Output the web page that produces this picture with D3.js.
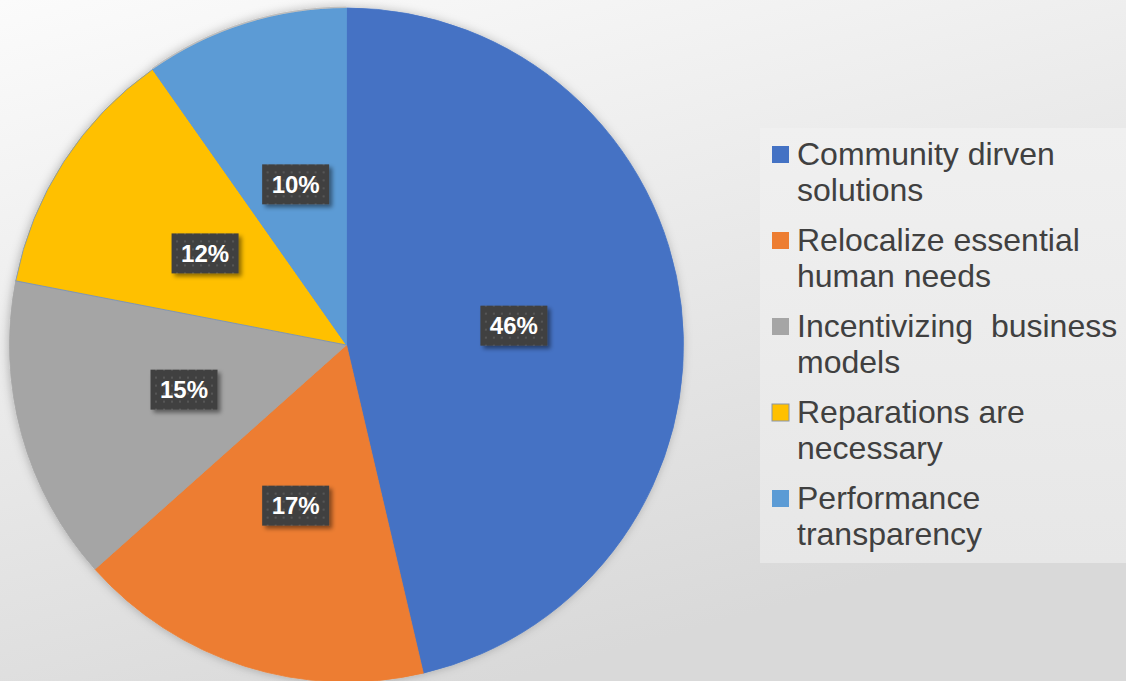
<!DOCTYPE html>
<html>
<head>
<meta charset="utf-8">
<script src="https://cdn.jsdelivr.net/npm/d3@7/dist/d3.min.js"></script>
<style>
  html, body { margin: 0; padding: 0; overflow: hidden; }
  svg { display: block; }
</style>
</head>
<body>
<svg id="chart"></svg>
<script>
// chart data (response counts, labels show share of total)
const categories = ["Community dirven solutions", "Relocalize essential human needs", "Incentivizing  business models", "Reparations are necessary", "Performance transparency"];
const legendLines = [["Community dirven", "solutions"], ["Relocalize essential", "human needs"], ["Incentivizing  business", "models"], ["Reparations are", "necessary"], ["Performance", "transparency"]];
const values = [19, 7, 6, 5, 4];
const colors = ["#4472C4", "#ED7D31", "#A5A5A5", "#FFC000", "#5B9BD5"];

const width = 1126, height = 681;
const cx = 346.5, cy = 345, radius = 337;
const total = d3.sum(values);

const svg = d3.select("svg#chart")
    .attr("width", width)
    .attr("height", height);

const defs = svg.append("defs");

// background gradient, light top-left to grey bottom-right
const bg = defs.append("linearGradient")
    .attr("id", "bg")
    .attr("x1", "0").attr("y1", "0")
    .attr("x2", "0.45").attr("y2", "1");
bg.append("stop").attr("offset", "0%").attr("stop-color", "#fbfbfb");
bg.append("stop").attr("offset", "100%").attr("stop-color", "#d9d9d9");

const lg = defs.append("linearGradient")
    .attr("id", "legbg")
    .attr("x1", "0").attr("y1", "0")
    .attr("x2", "0").attr("y2", "1");
lg.append("stop").attr("offset", "0%").attr("stop-color", "#f0f0f0");
lg.append("stop").attr("offset", "100%").attr("stop-color", "#e7e7e7");

// dotted dark fill for the data labels
const pat = defs.append("pattern")
    .attr("id", "dots")
    .attr("patternUnits", "userSpaceOnUse")
    .attr("width", 8).attr("height", 8);
pat.append("rect").attr("width", 8).attr("height", 8).attr("fill", "#404040");
pat.append("rect").attr("x", 3).attr("y", 3).attr("width", 2).attr("height", 2).attr("fill", "#575757");

const pieShadow = defs.append("filter")
    .attr("id", "pieShadow")
    .attr("x", "-10%").attr("y", "-10%").attr("width", "120%").attr("height", "120%");
pieShadow.append("feDropShadow")
    .attr("dx", -1).attr("dy", 0)
    .attr("stdDeviation", 5)
    .attr("flood-color", "#000")
    .attr("flood-opacity", 0.25);

const labShadow = defs.append("filter")
    .attr("id", "labShadow")
    .attr("x", "-20%").attr("y", "-20%").attr("width", "150%").attr("height", "160%");
labShadow.append("feDropShadow")
    .attr("dx", 3).attr("dy", 3)
    .attr("stdDeviation", 2)
    .attr("flood-color", "#000")
    .attr("flood-opacity", 0.45);

svg.append("rect")
    .attr("width", width).attr("height", height)
    .attr("fill", "url(#bg)");

// ===== PIE =====
const pie = d3.pie().sort(null).value(d => d)(values);
const arc = d3.arc().innerRadius(0).outerRadius(radius);
const rimArc = d3.arc().innerRadius(radius).outerRadius(radius + 1.5);

const g = svg.append("g")
    .attr("transform", "translate(" + cx + "," + cy + ")");

const slices = g.append("g")
    .attr("filter", "url(#pieShadow)");

slices.selectAll("path.slice")
    .data(pie)
    .join("path")
    .attr("class", "slice")
    .attr("d", arc)
    .attr("fill", (d, i) => colors[i])
    .attr("stroke", (d, i) => i === 3 ? "#6f8fc4" : colors[i])
    .attr("stroke-width", 0.8);

// thin grey rim on the last slice
slices.append("path")
    .attr("d", rimArc(pie[4]))
    .attr("fill", "#bdbdbd");

// ===== LABELS =====
const labels = g.selectAll("g.lab")
    .data(pie)
    .join("g")
    .attr("class", "lab")
    .attr("transform", d => {
        const [x, y] = arc.centroid(d);
        return "translate(" + x + "," + y + ")";
    });

labels.append("rect")
    .attr("x", -33.5).attr("y", -20)
    .attr("width", 67).attr("height", 40)
    .attr("fill", "url(#dots)")
    .attr("filter", "url(#labShadow)");

labels.append("text")
    .text(d => Math.round(d.data / total * 100) + "%")
    .attr("text-anchor", "middle")
    .attr("dy", "0.36em")
    .attr("font-family", "Liberation Sans, Arial, sans-serif")
    .attr("font-weight", "700")
    .attr("font-size", 24)
    .attr("fill", "#ffffff");

// ===== LEGEND =====
const legend = svg.append("g");
legend.append("rect")
    .attr("x", 760).attr("y", 128)
    .attr("width", width - 760).attr("height", 435)
    .attr("fill", "url(#legbg)");

const item = legend.selectAll("g.item")
    .data(categories)
    .join("g")
    .attr("class", "item")
    .attr("transform", (d, i) => "translate(772," + (165 + i * 86) + ")");

item.append("rect")
    .attr("x", 0).attr("y", -19)
    .attr("width", 17).attr("height", 17)
    .attr("fill", (d, i) => colors[i])
    .attr("stroke", (d, i) => i === 3 ? "#8a96a8" : "none")
    .attr("stroke-width", 1);

item.append("text")
    .attr("x", 25)
    .attr("font-family", "Liberation Sans, Arial, sans-serif")
    .attr("font-size", 32)
    .attr("fill", "#404040")
    .style("white-space", "pre")
    .selectAll("tspan")
    .data((d, i) => legendLines[i])
    .join("tspan")
    .attr("x", 25)
    .attr("y", (d, j) => j * 36)
    .text(d => d);
</script>
</body>
</html>
